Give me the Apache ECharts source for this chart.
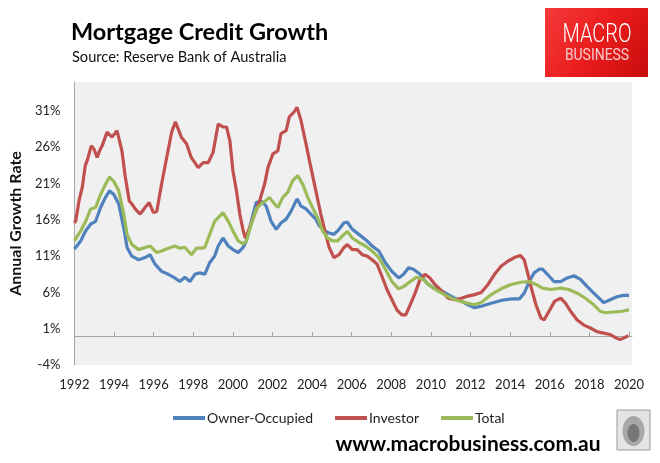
<!DOCTYPE html>
<html>
<head>
<meta charset="utf-8">
<script src="https://cdn.jsdelivr.net/npm/echarts@6/dist/echarts.min.js"></script>
<style>
html,body{margin:0;padding:0;background:#fff;}
#chart{width:660px;height:463px;}
</style>
</head>
<body>
<div id="chart"></div>
<script>
// ---- Data (annual growth rate, %) ----
const yTickLabels = [-4, 1, 6, 11, 16, 21, 26, 31];
const xTickLabels = [1992, 1994, 1996, 1998, 2000, 2002, 2004, 2006, 2008, 2010, 2012, 2014, 2016, 2018, 2020];

const ownerYears = [1992.0,1992.07,1992.32,1992.57,1992.82,1993.07,1993.32,1993.57,1993.77,1993.99,1994.24,1994.49,1994.66,1994.9,1995.24,1995.57,1995.82,1996.07,1996.4,1996.74,1997.07,1997.32,1997.58,1997.83,1998.08,1998.33,1998.58,1998.83,1999.08,1999.26,1999.5,1999.77,2000.0,2000.27,2000.52,2000.68,2000.85,2001.02,2001.18,2001.43,2001.68,2001.93,2002.19,2002.44,2002.69,2002.94,2003.24,2003.44,2003.69,2003.94,2004.19,2004.36,2004.61,2004.86,2005.1,2005.36,2005.61,2005.78,2006.03,2006.36,2006.69,2007.03,2007.37,2007.7,2008.03,2008.37,2008.62,2008.87,2009.12,2009.45,2009.79,2010.12,2010.54,2010.87,2011.2,2011.54,2011.87,2012.2,2012.54,2013.04,2013.54,2014.04,2014.46,2014.71,2014.96,2015.21,2015.46,2015.63,2015.88,2016.21,2016.55,2016.88,2017.22,2017.55,2017.89,2018.3,2018.72,2019.05,2019.39,2019.72,2020.0];
const ownerValues = [12.0,12.2,13.1,14.5,15.4,15.8,17.7,19.1,20.0,19.5,18.2,14.9,12.2,11.0,10.5,10.8,11.2,9.9,8.9,8.5,8.0,7.5,8.1,7.5,8.5,8.7,8.5,10.1,11.0,12.4,13.5,12.4,11.9,11.5,12.2,13.1,14.9,16.8,18.4,18.6,17.9,15.8,14.7,15.6,16.1,17.2,18.9,17.9,17.5,16.8,16.1,15.2,14.5,14.2,14.0,14.7,15.6,15.7,14.7,14.0,13.3,12.4,11.7,10.1,8.9,8.0,8.5,9.4,9.2,8.5,7.3,6.6,6.2,5.7,5.2,4.8,4.3,3.9,4.1,4.5,4.9,5.1,5.1,5.9,7.5,8.7,9.2,9.2,8.5,7.5,7.5,8.0,8.3,7.8,6.8,5.7,4.6,5.0,5.4,5.6,5.6];

const investorYears = [1992.0,1992.07,1992.23,1992.4,1992.55,1992.65,1992.85,1992.98,1993.15,1993.28,1993.4,1993.65,1993.9,1994.15,1994.4,1994.57,1994.77,1994.9,1995.07,1995.32,1995.57,1995.77,1995.99,1996.16,1996.4,1996.66,1996.91,1997.1,1997.4,1997.66,1997.9,1998.25,1998.5,1998.76,1999.0,1999.26,1999.5,1999.68,1999.85,2000.0,2000.18,2000.35,2000.52,2000.63,2000.85,2001.1,2001.35,2001.6,2001.77,2002.02,2002.27,2002.43,2002.69,2002.85,2003.1,2003.24,2003.44,2003.69,2003.94,2004.19,2004.44,2004.69,2004.86,2005.1,2005.36,2005.61,2005.78,2006.03,2006.28,2006.53,2006.78,2007.03,2007.28,2007.53,2007.78,2008.03,2008.28,2008.53,2008.73,2008.95,2009.2,2009.45,2009.7,2009.95,2010.2,2010.54,2010.87,2011.2,2011.54,2011.87,2012.2,2012.54,2012.88,2013.21,2013.54,2013.88,2014.21,2014.51,2014.71,2014.88,2015.05,2015.3,2015.55,2015.71,2015.96,2016.25,2016.55,2016.8,2017.05,2017.38,2017.72,2018.05,2018.38,2018.72,2019.05,2019.3,2019.55,2019.72,2019.97];
const investorValues = [15.6,15.9,18.6,20.5,23.5,24.2,26.2,25.8,24.6,25.6,26.2,28.1,27.4,28.3,25.5,21.9,18.6,18.2,17.5,16.8,17.7,18.4,17.0,17.2,20.9,24.6,28.1,29.5,27.4,26.5,24.6,23.2,23.9,23.9,25.3,29.2,28.8,28.8,26.9,22.8,20.0,16.8,14.5,13.5,14.9,16.8,18.6,20.9,23.2,25.1,25.5,27.9,28.3,30.2,30.9,31.5,29.7,26.5,23.2,20.0,16.8,14.0,12.2,10.8,11.2,12.2,12.6,11.9,11.9,11.2,11.0,10.5,9.9,8.2,6.4,5.0,3.6,2.9,2.9,4.3,5.9,7.8,8.5,8.0,7.1,6.2,5.2,5.0,5.2,5.5,5.7,6.0,7.1,8.5,9.6,10.3,10.8,11.1,10.5,8.7,6.8,4.3,2.5,2.2,3.4,4.8,5.2,4.5,3.4,2.2,1.5,1.1,0.6,0.4,0.2,-0.2,-0.5,-0.3,0.05];

const totalYears = [1992.0,1992.07,1992.32,1992.57,1992.82,1993.07,1993.32,1993.57,1993.77,1993.99,1994.24,1994.49,1994.66,1994.9,1995.24,1995.57,1995.82,1996.16,1996.4,1996.74,1997.07,1997.32,1997.58,1997.91,1998.16,1998.41,1998.58,1998.83,1999.08,1999.26,1999.5,1999.77,2000.0,2000.27,2000.52,2000.68,2000.93,2001.18,2001.43,2001.68,2001.85,2002.1,2002.27,2002.52,2002.77,2003.02,2003.27,2003.53,2003.78,2004.02,2004.28,2004.53,2004.78,2005.04,2005.29,2005.53,2005.78,2006.03,2006.36,2006.69,2007.03,2007.37,2007.7,2008.03,2008.37,2008.62,2008.95,2009.28,2009.62,2009.95,2010.29,2010.62,2011.04,2011.45,2011.87,2012.2,2012.54,2013.04,2013.54,2014.04,2014.54,2014.96,2015.3,2015.63,2016.05,2016.55,2016.96,2017.38,2017.8,2018.22,2018.55,2018.8,2019.22,2019.64,2020.0];
const totalValues = [13.1,13.3,14.5,15.8,17.5,17.7,19.5,20.9,21.9,21.3,20.0,16.8,14.0,12.6,11.9,12.2,12.4,11.5,11.7,12.1,12.4,12.1,12.2,11.2,12.1,12.1,12.2,14.0,15.8,16.3,17.0,15.8,14.5,13.1,12.7,13.1,15.4,17.5,18.2,18.7,19.1,18.2,17.7,19.1,19.8,21.4,22.1,20.9,19.1,17.7,16.3,14.5,13.5,13.1,13.1,13.8,14.4,13.5,12.9,12.4,11.7,10.8,9.2,7.5,6.5,6.8,7.5,8.1,7.8,6.9,6.3,5.8,5.2,4.8,4.5,4.3,4.6,5.7,6.5,7.1,7.4,7.5,7.1,6.6,6.4,6.6,6.4,5.9,5.2,4.3,3.4,3.2,3.3,3.4,3.6];

function pairs(xs, ys) { return xs.map((x, i) => [x, ys[i]]); }

const FONT = 'Lato, "Open Sans", sans-serif';
const chart = echarts.init(document.getElementById('chart'), null, {renderer: 'canvas'});

const option = {
  animation: false,
  backgroundColor: '#ffffff',
  color: ['#4F81BD', '#C0504D', '#9BBB59'],
  grid: {
    left: 70, right: 28, top: 82, bottom: 98,
    show: true, backgroundColor: '#f0f0f0', borderWidth: 0
  },
  xAxis: [
    {
      type: 'value', min: 1992, max: 2020.15,
      axisLine: {show: true, onZero: true, lineStyle: {color: '#a6a6a6', width: 1}},
      axisTick: {show: true, inside: true, length: 4, lineStyle: {color: '#a6a6a6'},
                 customValues: xTickLabels.slice(1)},
      axisLabel: {show: false},
      splitLine: {show: false}
    },
    {
      type: 'value', min: 1992, max: 2020.15, position: 'bottom',
      axisLine: {show: false, onZero: false},
      axisTick: {show: false},
      splitLine: {show: false},
      axisLabel: {show: true, customValues: xTickLabels, margin: 13,
                  fontFamily: FONT, fontSize: 13, color: '#222',
                  formatter: v => String(Math.round(v))}
    }
  ],
  yAxis: {
    type: 'value', min: -4, max: 35,
    name: 'Annual Growth Rate', nameLocation: 'middle', nameGap: 42,
    nameTextStyle: {fontFamily: FONT, fontSize: 16, fontWeight: 'bold', color: '#111'},
    axisLine: {show: true, lineStyle: {color: '#a6a6a6'}},
    axisTick: {show: false},
    splitLine: {show: false},
    axisLabel: {customValues: yTickLabels, formatter: '{value}%', margin: 14,
                fontFamily: FONT, fontSize: 13, color: '#222'}
  },
  legend: {
    left: 168, top: 406,
    itemWidth: 32, itemHeight: 4, itemGap: 22,
    icon: 'rect',
    textStyle: {fontFamily: FONT, fontSize: 14, color: '#222', padding: [0, 0, 0, -3]},
    data: ['Owner-Occupied', 'Investor', 'Total']
  },
  series: [
    {name: 'Owner-Occupied', type: 'line', xAxisIndex: 0, showSymbol: false, data: pairs(ownerYears, ownerValues), lineStyle: {width: 3.2}},
    {name: 'Investor', type: 'line', xAxisIndex: 0, showSymbol: false, data: pairs(investorYears, investorValues), lineStyle: {width: 3.2}},
    {name: 'Total', type: 'line', xAxisIndex: 0, showSymbol: false, data: pairs(totalYears, totalValues), lineStyle: {width: 3.2}}
  ],
  graphic: [
    {type: 'text', x: 71, y: 32, style: {text: 'Mortgage Credit Growth', font: 'bold 23.5px ' + FONT, fill: '#000', textVerticalAlign: 'middle'}},
    {type: 'text', x: 72, y: 57, style: {text: 'Source: Reserve Bank of Australia', font: '14.6px ' + FONT, fill: '#111', textVerticalAlign: 'middle'}},
    {type: 'rect', shape: {x: 545, y: 8, width: 103, height: 69},
     style: {fill: new echarts.graphic.LinearGradient(0, 0, 1, 1, [
       {offset: 0, color: '#f53a3a'}, {offset: 0.5, color: '#ea1c1c'}, {offset: 1, color: '#c80d0d'}])}},
    {type: 'text', x: 597, y: 36, scaleX: 0.8,
     style: {text: 'MACRO', font: '300 25px Roboto, sans-serif', fill: '#ffffff', textAlign: 'center', textVerticalAlign: 'middle'}},
    {type: 'text', x: 597, y: 56, scaleX: 0.82,
     style: {text: 'BUSINESS', font: '17px Roboto, sans-serif', fill: '#f8cccc', textAlign: 'center', textVerticalAlign: 'middle'}},
    {type: 'text', x: 468, y: 444, style: {text: 'www.macrobusiness.com.au', font: 'bold 21px ' + FONT, fill: '#000', textAlign: 'center', textVerticalAlign: 'middle'}},
    {type: 'rect', shape: {x: 617, y: 410, width: 33, height: 40}, style: {fill: '#e4e4e4', stroke: '#9a9a9a', lineWidth: 1}},
    {type: 'ellipse', shape: {cx: 633.5, cy: 431, rx: 11, ry: 15}, style: {fill: '#a8a8a8'}},
    {type: 'ellipse', shape: {cx: 633.5, cy: 433, rx: 6, ry: 9}, style: {fill: '#777'}}
  ]
};
chart.setOption(option);
</script>
</body>
</html>
